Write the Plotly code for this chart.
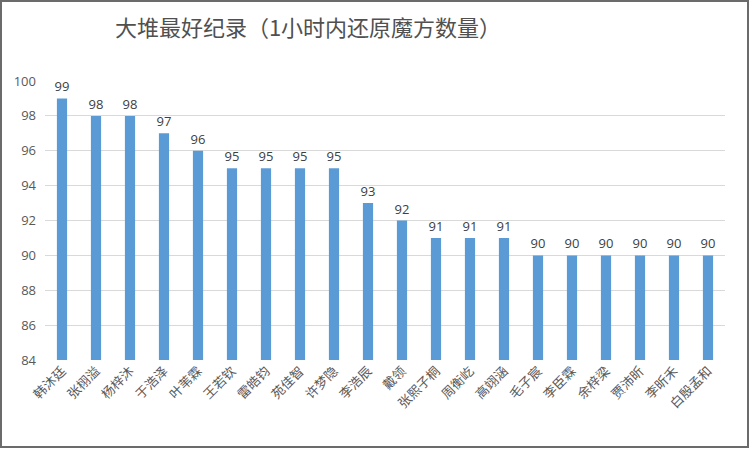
import plotly.graph_objects as go

names = ["韩沐廷", "张栩溢", "杨梓沐", "于浩泽", "叶苇霖", "王若钦", "雷皓钧", "苑佳智",
         "许梦隐", "李浩辰", "戴领", "张熙子桐", "周衡屹", "高翊涵", "毛子宸", "李臣霖",
         "余梓梁", "贾沛昕", "李昕禾", "白殷孟和"]
scores = [99, 98, 98, 97, 96, 95, 95, 95, 95, 93, 92, 91, 91, 91, 90, 90, 90, 90, 90, 90]
title_text = "大堆最好纪录（1小时内还原魔方数量）"

W, H = 750, 449
ML, MR, MT, MB = 45, 25, 81, 89

fig = go.Figure(go.Bar(
    x=names, y=scores,
    marker=dict(color="#5B9BD5", line=dict(width=0)),
    width=0.3,
    text=scores, textposition="outside", cliponaxis=False, constraintext="none",
    textfont=dict(family="Open Sans, Liberation Sans, sans-serif", size=13, color="#404040"),
))

pw = W - ML - MR
ph = H - MT - MB
fig.add_shape(type="rect", xref="paper", yref="paper",
              x0=(-ML + 1) / pw, x1=1 + (MR - 2) / pw,
              y0=(-MB + 2) / ph, y1=1 + (MT - 1) / ph,
              line=dict(color="#6b6b6b", width=2), layer="above")

fig.update_layout(
    width=W, height=H,
    margin=dict(l=ML, r=MR, t=MT, b=MB, autoexpand=False),
    paper_bgcolor="white", plot_bgcolor="white",
    showlegend=False,
    title=dict(text=title_text, x=308 / W, xanchor="center", y=1 - 28 / H, yanchor="middle",
               font=dict(family="Noto Sans CJK SC", size=22, color="#505050")),
    xaxis=dict(tickangle=-45, showgrid=False, showline=False, ticks="", automargin=False,
               tickfont=dict(family="Noto Sans CJK SC", size=13, color="#595959")),
    yaxis=dict(range=[84, 100], dtick=2, showgrid=True, gridcolor="#D9D9D9", gridwidth=1,
               zeroline=False, ticks="", ticklen=0, automargin=False, ticklabelstandoff=8,
               tickfont=dict(family="Open Sans, Liberation Sans, sans-serif", size=13, color="#595959")),
    bargap=0.7,
)

fig.write_html("out.html", config={"displayModeBar": False},
               post_script="document.body.style.margin='0';document.body.style.overflow='hidden';")
